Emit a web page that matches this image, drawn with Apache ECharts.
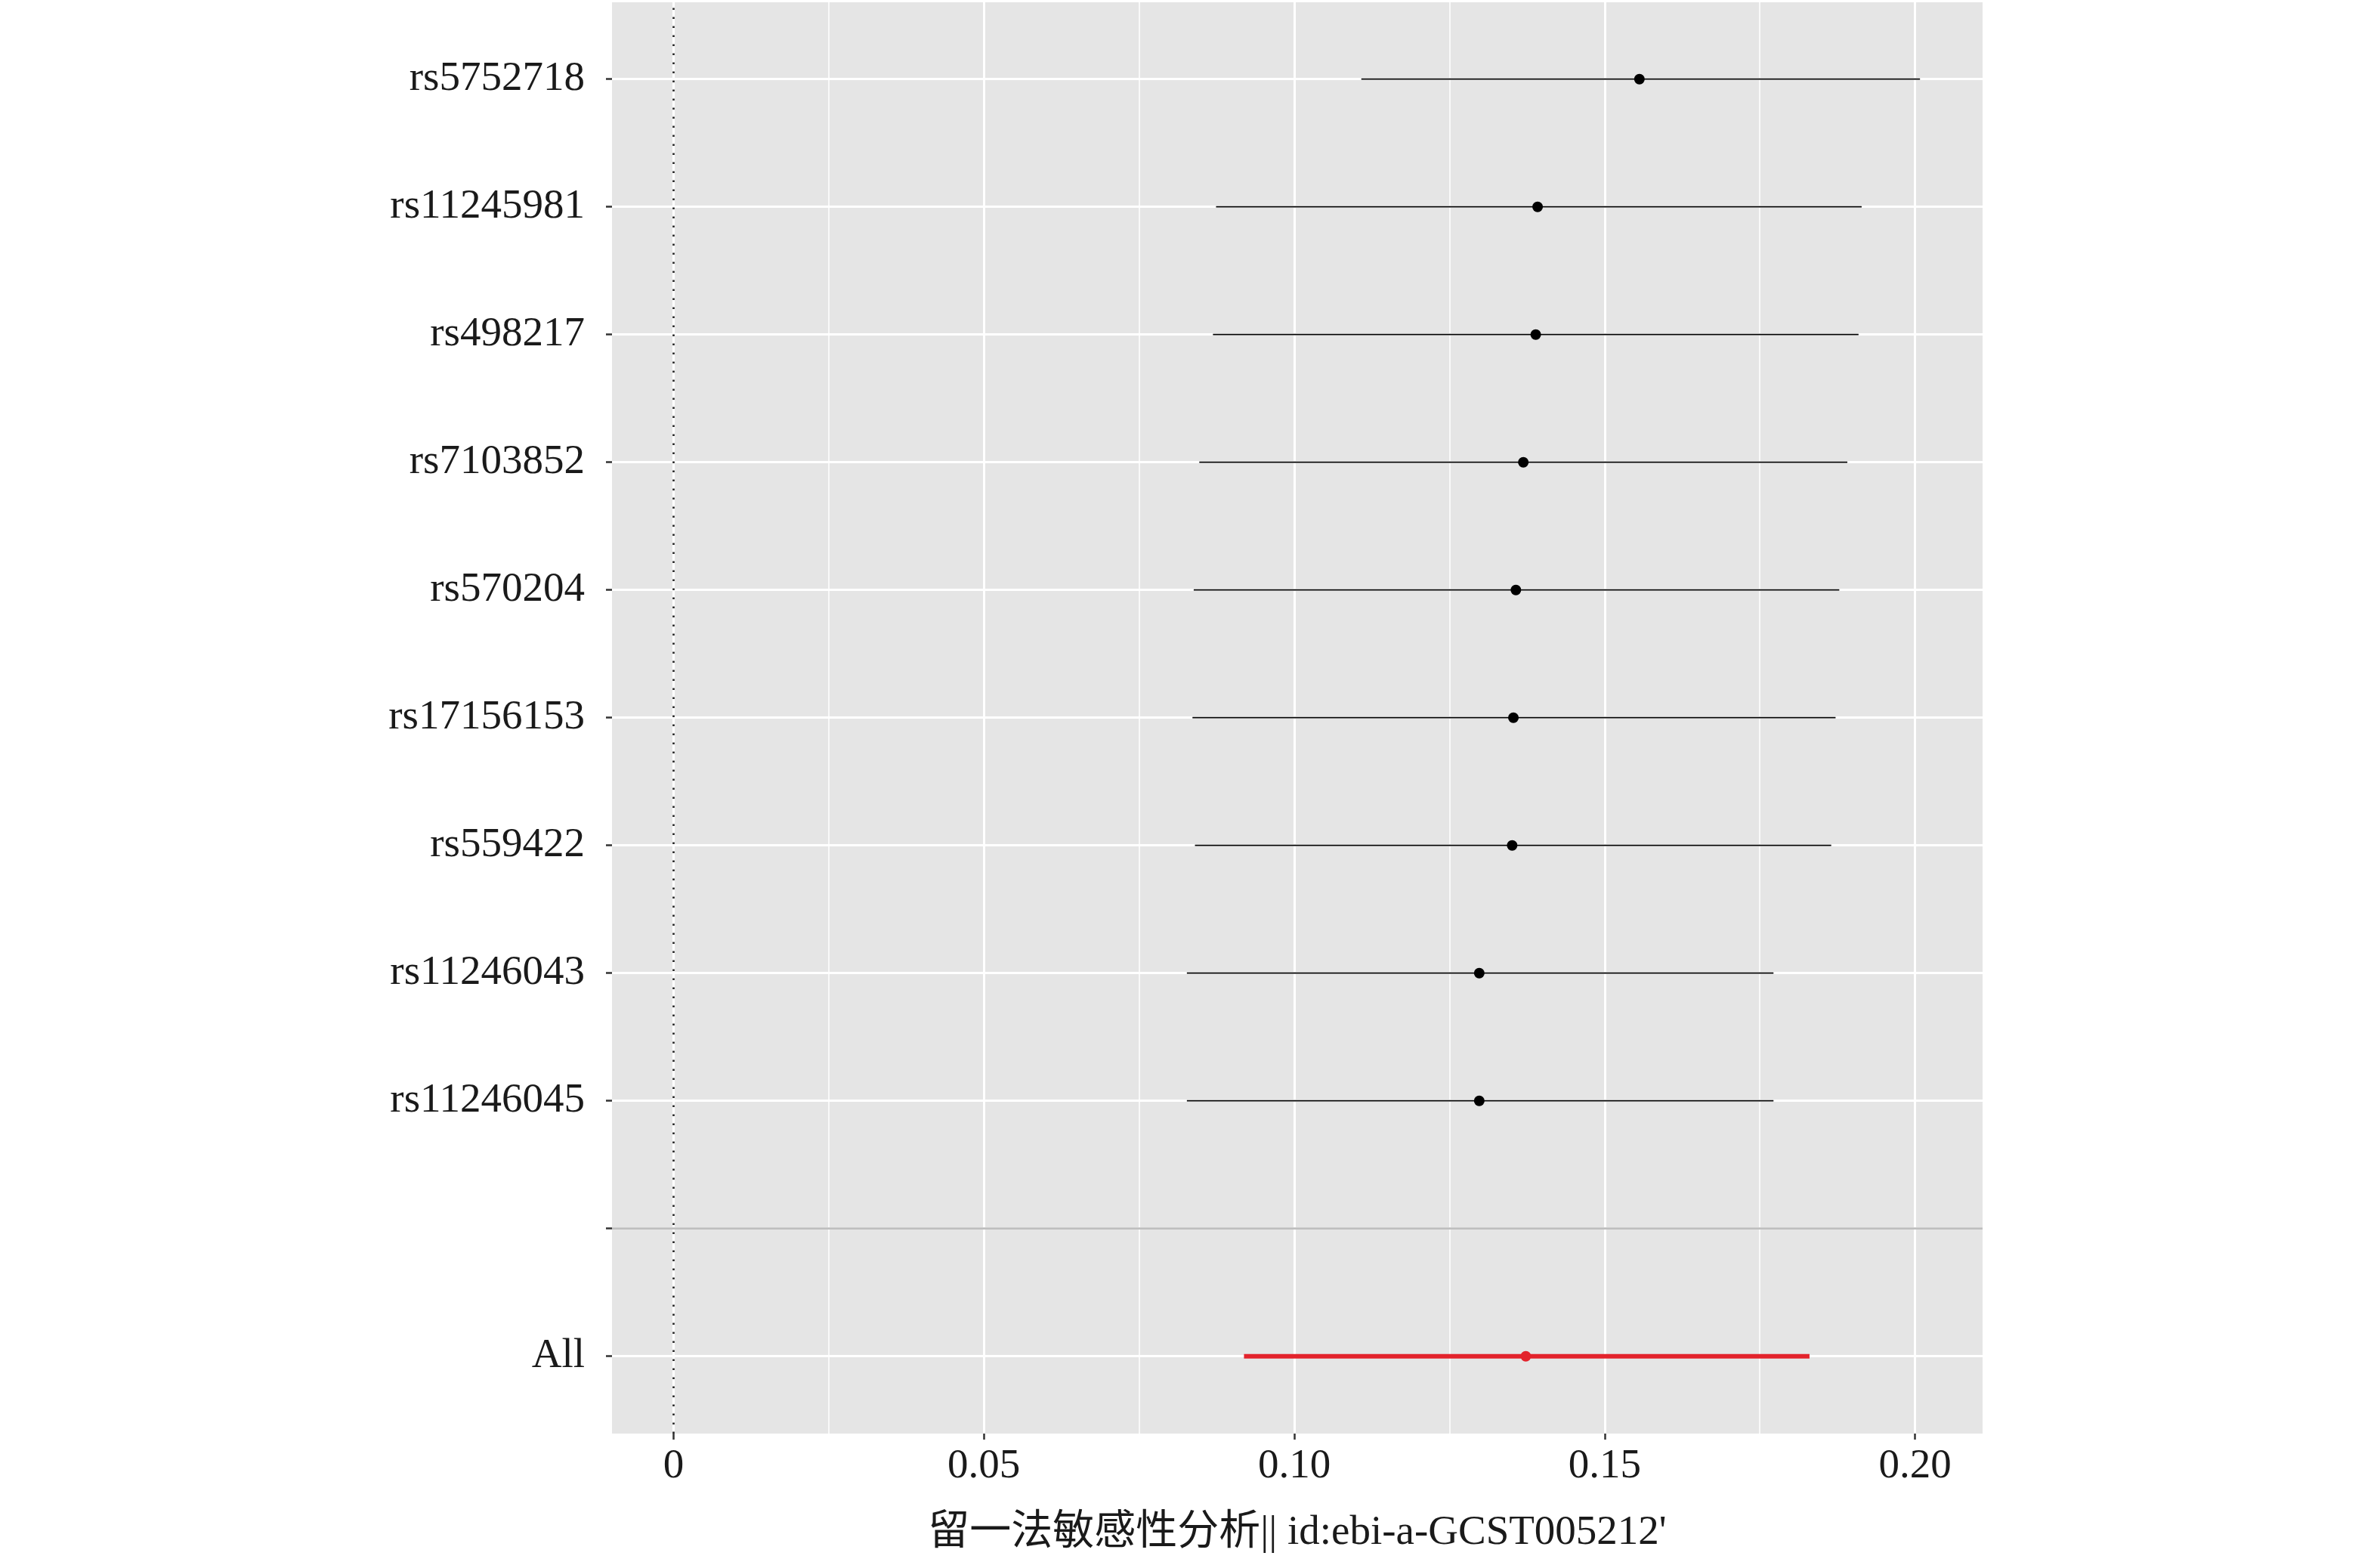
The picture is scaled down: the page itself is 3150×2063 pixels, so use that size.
<!DOCTYPE html>
<html>
<head>
<meta charset="utf-8">
<script src="https://cdn.jsdelivr.net/npm/echarts@6/dist/echarts.min.js"></script>
<style>
html,body{margin:0;padding:0;background:#fff;}
#chart{width:3150px;height:2063px;}
</style>
</head>
<body>
<div id="chart"></div>
<script>
// ---- data ----
var snps = ['rs5752718','rs11245981','rs498217','rs7103852','rs570204','rs17156153','rs559422','rs11246043','rs11246045','','All'];
var estimate = [0.1556,0.1392,0.1389,0.1369,0.1357,0.1353,0.1351,0.1298,0.1298,null,0.1373];
var lower    = [0.1108,0.0874,0.0869,0.0847,0.0838,0.0836,0.0840,0.0827,0.0827,null,0.0919];
var upper    = [0.2008,0.1914,0.1909,0.1891,0.1878,0.1872,0.1865,0.1772,0.1772,null,0.1830];
var isTotal  = [0,0,0,0,0,0,0,0,0,0,1];
var xTickValues = [0, 0.05, 0.10, 0.15, 0.20];
var xTitle = "留一法敏感性分析|| id:ebi-a-GCST005212'";
var separatorRow = '';
var refLine = 0;

// ---- layout ----
var W = 3150, H = 2063;
var panelL = 810, panelR = 2624, panelT = 3, panelB = 1897;
var x0px = 891.4, x20px = 2534.6;
var pxPerUnit = (x20px - x0px) / 0.2;
var xMin = -(x0px - panelL) / pxPerUnit;
var xMax = (panelR - x0px) / pxPerUnit;
var rowTop = 104.7, rowBottom = 1794.7;
var FONT = "'Liberation Serif','Times New Roman','Noto Sans CJK SC',serif";
var textColor = '#1a1a1a';

var rows = [];
for (var i = 0; i < snps.length; i++) {
  if (estimate[i] == null) continue;
  rows.push([lower[i], upper[i], estimate[i], i, isTotal[i]]);
}
var sepIndex = snps.indexOf(separatorRow);

var chart = echarts.init(document.getElementById('chart'), null, {renderer:'canvas', width: W, height: H});

var option = {
  animation: false,
  backgroundColor: '#ffffff',
  grid: [
    { // panel background
      left: panelL, right: W - panelR, top: panelT, bottom: H - panelB,
      show: true, backgroundColor: '#E5E5E5', borderWidth: 0
    },
    { // rows
      left: panelL, right: W - panelR, top: rowTop, bottom: H - rowBottom,
      show: false
    },
    { // x ticks
      left: x0px, right: W - x20px, top: panelT, bottom: H - panelB,
      show: false
    }
  ],
  xAxis: [
    {
      gridIndex: 0, type: 'value', min: xMin, max: xMax,
      axisLine: {show: false, onZero: false}, axisTick: {show: false}, axisLabel: {show: false}, splitLine: {show: false},
      name: xTitle, nameLocation: 'middle', nameGap: 104,
      nameTextStyle: {fontFamily: FONT, fontSize: 55, color: textColor}
    },
    {
      gridIndex: 1, type: 'value', min: xMin, max: xMax, show: false,
      axisLine: {onZero: false}
    },
    {
      gridIndex: 2, type: 'value', min: 0, max: 0.2, interval: 0.05,
      axisLine: {show: false, onZero: false},
      axisTick: {show: true, length: 8, lineStyle: {color: '#333333', width: 2.5}},
      axisLabel: {
        show: true, margin: 16, fontFamily: FONT, fontSize: 55, color: textColor,
        formatter: function (v) { return Math.abs(v) < 1e-9 ? '0' : v.toFixed(2); }
      },
      splitLine: {show: true, lineStyle: {color: '#FFFFFF', width: 3}},
      minorTick: {show: false, splitNumber: 2},
      minorSplitLine: {show: true, lineStyle: {color: '#FFFFFF', width: 1.5}}
    }
  ],
  yAxis: [
    {gridIndex: 0, type: 'value', min: 0, max: 1, show: false, axisLine: {onZero: false}},
    {
      gridIndex: 1, type: 'category', data: snps, inverse: true, boundaryGap: false,
      axisLine: {show: false, onZero: false},
      axisTick: {show: true, interval: 0, length: 8, lineStyle: {color: '#333333', width: 2.5}},
      axisLabel: {show: true, interval: 0, margin: 36, fontFamily: FONT, fontSize: 55, color: textColor},
      splitLine: {show: true, interval: 0, lineStyle: {color: '#FFFFFF', width: 3}}
    },
    {gridIndex: 2, type: 'value', min: 0, max: 1, show: false, axisLine: {onZero: false}}
  ],
  series: [
    {
      type: 'line', xAxisIndex: 0, yAxisIndex: 0, data: [], silent: true, z: 3,
      markLine: {
        silent: true, symbol: ['none','none'], label: {show: false},
        lineStyle: {color: '#222222', width: 2.6, type: [2.6, 9.4]},
        data: [{xAxis: refLine}]
      }
    },
    { // grey separator line across the panel at the blank row
      type: 'custom', xAxisIndex: 1, yAxisIndex: 1, z: 3, silent: true,
      data: [[xMin, sepIndex]],
      encode: {x: 0, y: 1},
      renderItem: function (params, api) {
        var cs = params.coordSys;
        var y = api.coord([0, api.value(1)])[1];
        return {type: 'line', shape: {x1: cs.x, y1: y, x2: cs.x + cs.width, y2: y},
                style: {stroke: '#BEBEBE', lineWidth: 2.8}};
      }
    },
    {
      type: 'custom', xAxisIndex: 1, yAxisIndex: 1, z: 4, silent: true,
      data: rows,
      dimensions: ['lo','hi','est','row','tot'],
      encode: {x: [0,1,2], y: 3},
      renderItem: function (params, api) {
        var lo = api.value(0), hi = api.value(1), est = api.value(2), row = api.value(3), tot = api.value(4);
        var p1 = api.coord([lo, row]);
        var p2 = api.coord([hi, row]);
        var pc = api.coord([est, row]);
        var col = tot ? '#E3232C' : '#000000';
        var lw = tot ? 6 : 1.8;
        return {
          type: 'group',
          children: [
            {type: 'line', shape: {x1: p1[0], y1: p1[1], x2: p2[0], y2: p2[1]},
             style: {stroke: col, lineWidth: lw}},
            {type: 'circle', shape: {cx: pc[0], cy: pc[1], r: 7},
             style: {fill: col}}
          ]
        };
      }
    }
  ]
};
chart.setOption(option);
</script>
</body>
</html>
